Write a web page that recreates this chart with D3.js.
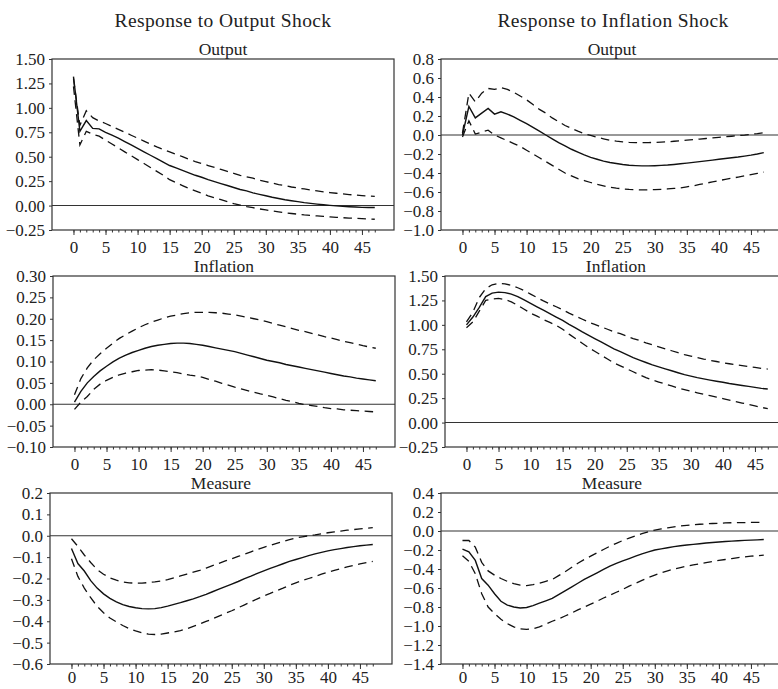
<!DOCTYPE html>
<meta charset="utf-8" />
<style>
  body { margin: 0; background: #fff; }
  svg text { font-family: "Liberation Serif", "DejaVu Serif", serif; fill: #222; }
</style>
<body>
<div id="chart"></div>
<script src="https://cdn.jsdelivr.net/npm/d3@7"></script>
<script>
// horizons 0..47
var horizon = d3.range(0, 48);

// --- Response to output shock ---
var outShockOutput = [1.32,0.76,0.87,0.79,0.785,0.75,0.72,0.69,0.655,0.62,0.585,0.55,0.515,0.48,0.445,0.41,0.385,0.36,0.335,0.31,0.29,0.265,0.245,0.225,0.205,0.185,0.165,0.15,0.13,0.115,0.10,0.085,0.072,0.06,0.05,0.04,0.03,0.022,0.015,0.008,0.002,-0.003,-0.008,-0.012,-0.015,-0.018,-0.02,-0.02];
var outShockOutputHi = [1.30,0.82,0.97,0.90,0.865,0.84,0.81,0.78,0.75,0.72,0.69,0.66,0.63,0.60,0.575,0.55,0.525,0.50,0.475,0.45,0.43,0.41,0.39,0.37,0.35,0.33,0.31,0.295,0.28,0.26,0.245,0.23,0.215,0.205,0.19,0.18,0.17,0.16,0.15,0.14,0.133,0.126,0.12,0.113,0.107,0.102,0.097,0.094];
var outShockOutputLo = [1.22,0.62,0.76,0.73,0.71,0.67,0.63,0.59,0.55,0.51,0.47,0.43,0.39,0.35,0.31,0.265,0.235,0.205,0.175,0.15,0.125,0.10,0.08,0.06,0.04,0.02,0.005,-0.01,-0.022,-0.034,-0.045,-0.055,-0.064,-0.073,-0.081,-0.088,-0.095,-0.10,-0.106,-0.111,-0.116,-0.12,-0.124,-0.128,-0.131,-0.134,-0.137,-0.14];

var outShockInfl = [0.005,0.03,0.05,0.065,0.078,0.089,0.099,0.108,0.115,0.121,0.126,0.131,0.135,0.138,0.140,0.142,0.143,0.143,0.142,0.140,0.138,0.135,0.132,0.129,0.126,0.123,0.119,0.115,0.111,0.107,0.103,0.100,0.097,0.093,0.090,0.087,0.084,0.081,0.078,0.075,0.072,0.069,0.066,0.064,0.061,0.059,0.057,0.055];
var outShockInflHi = [0.022,0.06,0.085,0.104,0.118,0.131,0.143,0.154,0.163,0.171,0.179,0.186,0.192,0.197,0.202,0.206,0.209,0.212,0.214,0.215,0.215,0.215,0.214,0.213,0.211,0.209,0.206,0.203,0.200,0.197,0.193,0.189,0.185,0.181,0.177,0.173,0.170,0.166,0.162,0.158,0.155,0.151,0.147,0.144,0.141,0.137,0.134,0.131];
var outShockInflLo = [-0.012,0.005,0.018,0.035,0.047,0.056,0.063,0.069,0.073,0.076,0.079,0.080,0.081,0.080,0.078,0.076,0.074,0.071,0.068,0.066,0.063,0.058,0.054,0.049,0.045,0.040,0.036,0.032,0.028,0.024,0.021,0.017,0.013,0.009,0.006,0.002,-0.001,-0.003,-0.005,-0.008,-0.010,-0.011,-0.013,-0.014,-0.015,-0.016,-0.017,-0.018];

var outShockMeas = [-0.06,-0.13,-0.165,-0.21,-0.245,-0.272,-0.293,-0.309,-0.322,-0.331,-0.337,-0.341,-0.342,-0.341,-0.336,-0.329,-0.321,-0.313,-0.304,-0.295,-0.285,-0.274,-0.262,-0.25,-0.238,-0.226,-0.214,-0.201,-0.189,-0.176,-0.164,-0.153,-0.142,-0.131,-0.12,-0.111,-0.102,-0.093,-0.085,-0.078,-0.071,-0.065,-0.06,-0.055,-0.051,-0.047,-0.044,-0.041];
var outShockMeasHi = [-0.014,-0.05,-0.09,-0.125,-0.158,-0.18,-0.197,-0.208,-0.216,-0.22,-0.222,-0.222,-0.219,-0.216,-0.212,-0.205,-0.197,-0.188,-0.179,-0.17,-0.162,-0.151,-0.14,-0.129,-0.118,-0.108,-0.097,-0.086,-0.075,-0.064,-0.054,-0.045,-0.036,-0.027,-0.018,-0.01,-0.005,0.0,0.004,0.009,0.014,0.018,0.022,0.026,0.029,0.032,0.035,0.038];
var outShockMeasLo = [-0.108,-0.19,-0.245,-0.29,-0.33,-0.36,-0.385,-0.403,-0.42,-0.434,-0.445,-0.454,-0.46,-0.462,-0.46,-0.455,-0.45,-0.444,-0.435,-0.424,-0.413,-0.401,-0.389,-0.376,-0.363,-0.351,-0.337,-0.323,-0.309,-0.295,-0.282,-0.27,-0.257,-0.245,-0.232,-0.22,-0.21,-0.2,-0.19,-0.18,-0.17,-0.162,-0.154,-0.146,-0.139,-0.132,-0.126,-0.12];

// --- Response to inflation shock ---
var infShockOutput = [0,0.30,0.18,0.23,0.28,0.22,0.245,0.22,0.19,0.155,0.12,0.08,0.04,0.0,-0.04,-0.08,-0.115,-0.15,-0.18,-0.21,-0.235,-0.255,-0.275,-0.29,-0.30,-0.31,-0.318,-0.322,-0.325,-0.325,-0.323,-0.32,-0.316,-0.31,-0.303,-0.296,-0.288,-0.28,-0.272,-0.264,-0.256,-0.248,-0.24,-0.232,-0.222,-0.212,-0.2,-0.185];
var infShockOutputHi = [0.02,0.44,0.35,0.44,0.49,0.48,0.50,0.48,0.45,0.41,0.37,0.32,0.27,0.23,0.18,0.14,0.10,0.07,0.04,0.015,-0.005,-0.025,-0.04,-0.055,-0.065,-0.072,-0.077,-0.08,-0.081,-0.08,-0.078,-0.075,-0.071,-0.066,-0.061,-0.055,-0.049,-0.043,-0.037,-0.031,-0.025,-0.019,-0.013,-0.007,-0.001,0.008,0.015,0.025];
var infShockOutputLo = [-0.02,0.15,0.01,0.03,0.05,0.0,-0.03,-0.06,-0.09,-0.12,-0.16,-0.20,-0.24,-0.28,-0.32,-0.36,-0.40,-0.43,-0.46,-0.48,-0.50,-0.52,-0.535,-0.55,-0.56,-0.567,-0.573,-0.577,-0.578,-0.577,-0.575,-0.572,-0.568,-0.562,-0.556,-0.545,-0.535,-0.52,-0.507,-0.494,-0.48,-0.467,-0.455,-0.443,-0.43,-0.417,-0.404,-0.39];

var infShockInfl = [1.00,1.08,1.18,1.29,1.325,1.335,1.33,1.315,1.29,1.255,1.22,1.185,1.15,1.115,1.08,1.045,1.005,0.97,0.93,0.895,0.86,0.825,0.79,0.755,0.725,0.695,0.665,0.64,0.615,0.59,0.57,0.55,0.53,0.51,0.49,0.475,0.46,0.447,0.435,0.423,0.412,0.40,0.39,0.38,0.37,0.36,0.35,0.343];
var infShockInflHi = [1.03,1.13,1.28,1.37,1.41,1.425,1.42,1.405,1.38,1.35,1.315,1.28,1.245,1.215,1.185,1.155,1.12,1.09,1.06,1.03,1.005,0.98,0.955,0.93,0.91,0.885,0.86,0.84,0.815,0.795,0.775,0.755,0.735,0.715,0.695,0.68,0.665,0.65,0.637,0.625,0.613,0.602,0.592,0.582,0.573,0.564,0.555,0.548];
var infShockInflLo = [0.97,1.03,1.14,1.25,1.265,1.27,1.26,1.235,1.20,1.16,1.12,1.09,1.055,1.025,0.995,0.955,0.905,0.86,0.815,0.77,0.73,0.69,0.65,0.61,0.58,0.55,0.52,0.49,0.46,0.435,0.415,0.395,0.375,0.355,0.337,0.32,0.305,0.29,0.275,0.26,0.245,0.23,0.215,0.2,0.185,0.17,0.155,0.143];

var infShockMeas = [-0.19,-0.22,-0.31,-0.50,-0.57,-0.66,-0.74,-0.78,-0.80,-0.81,-0.805,-0.785,-0.76,-0.735,-0.71,-0.67,-0.63,-0.59,-0.55,-0.51,-0.475,-0.44,-0.405,-0.37,-0.34,-0.315,-0.29,-0.265,-0.24,-0.22,-0.2,-0.188,-0.176,-0.165,-0.155,-0.148,-0.141,-0.134,-0.127,-0.121,-0.116,-0.111,-0.107,-0.103,-0.099,-0.096,-0.093,-0.09];
var infShockMeasHi = [-0.10,-0.10,-0.17,-0.33,-0.42,-0.465,-0.50,-0.53,-0.555,-0.57,-0.575,-0.565,-0.55,-0.53,-0.51,-0.47,-0.43,-0.385,-0.34,-0.30,-0.265,-0.23,-0.195,-0.16,-0.13,-0.1,-0.075,-0.05,-0.028,-0.008,0.01,0.022,0.034,0.044,0.053,0.06,0.066,0.071,0.075,0.079,0.082,0.085,0.087,0.088,0.089,0.09,0.09,0.09];
var infShockMeasLo = [-0.26,-0.32,-0.45,-0.66,-0.80,-0.87,-0.93,-0.975,-1.01,-1.03,-1.035,-1.03,-1.01,-0.98,-0.95,-0.925,-0.895,-0.865,-0.83,-0.80,-0.77,-0.74,-0.705,-0.675,-0.645,-0.615,-0.58,-0.55,-0.52,-0.49,-0.465,-0.44,-0.42,-0.40,-0.385,-0.37,-0.357,-0.345,-0.333,-0.322,-0.31,-0.3,-0.29,-0.28,-0.272,-0.265,-0.26,-0.255];

// tick values / labels
var xMajorTicks = [0,5,10,15,20,25,30,35,40,45];
var xTickLabels = ["0","5","10","15","20","25","30","35","40","45"];
var xTickLabelsOdd = ["0","5","10","15","20","25","35","30","40","45"]; // as printed under the inflation-shock inflation panel
var yTicksOutA = [-0.25,0,0.25,0.5,0.75,1,1.25,1.5];
var yTicksOutB = [-1,-0.8,-0.6,-0.4,-0.2,0,0.2,0.4,0.6,0.8];
var yTicksInfA = [-0.1,-0.05,0,0.05,0.1,0.15,0.2,0.25,0.3];
var yTicksInfB = [-0.25,0,0.25,0.5,0.75,1,1.25,1.5];
var yTicksMeasA = [-0.6,-0.5,-0.4,-0.3,-0.2,-0.1,0,0.1,0.2];
var yTicksMeasB = [-1.4,-1.2,-1,-0.8,-0.6,-0.4,-0.2,0,0.2,0.4];

var columnTitles = ["Response to Output Shock", "Response to Inflation Shock"];

var W = 778, H = 689;
var panelW = 342, panelH = 171;
var tickFont = 17;

var svg = d3.select("#chart").append("svg")
  .attr("width", W).attr("height", H);

svg.selectAll("text.coltitle")
  .data(columnTitles)
  .enter().append("text")
  .attr("class", "coltitle")
  .attr("x", (d, i) => i === 0 ? 223 : 613)
  .attr("y", 27)
  .attr("text-anchor", "middle")
  .attr("font-size", "19.5px")
  .attr("letter-spacing", "0.4px")
  .text(d => d);

var panels = [
  { title: "Output", left: 52, top: 59, dom: [-0.25, 1.5], ticks: yTicksOutA, fmt: ".2f", mid: outShockOutput, hi: outShockOutputHi, lo: outShockOutputLo, xl: xTickLabels, pad: 23 },
  { title: "Output", left: 441, top: 59, dom: [-1, 0.8], ticks: yTicksOutB, fmt: ".1f", mid: infShockOutput, hi: infShockOutputHi, lo: infShockOutputLo, xl: xTickLabels, pad: 23 },
  { title: "Inflation", left: 53, top: 276, dom: [-0.1, 0.3], ticks: yTicksInfA, fmt: ".2f", mid: outShockInfl, hi: outShockInflHi, lo: outShockInflLo, xl: xTickLabels, pad: 23 },
  { title: "Inflation", left: 445, top: 276, dom: [-0.25, 1.5], ticks: yTicksInfB, fmt: ".2f", mid: infShockInfl, hi: infShockInflHi, lo: infShockInflLo, xl: xTickLabelsOdd, pad: 23 },
  { title: "Measure", left: 50, top: 493, dom: [-0.6, 0.2], ticks: yTicksMeasA, fmt: ".1f", mid: outShockMeas, hi: outShockMeasHi, lo: outShockMeasLo, xl: xTickLabels, pad: 19 },
  { title: "Measure", left: 441, top: 493, dom: [-1.4, 0.4], ticks: yTicksMeasB, fmt: ".1f", mid: infShockMeas, hi: infShockMeasHi, lo: infShockMeasLo, xl: xTickLabels, pad: 19 }
];

panels.forEach(function (p) {
  var x = d3.scaleLinear().domain([-3.35, 50]).range([p.left, p.left + panelW]);
  var y = d3.scaleLinear().domain(p.dom).range([p.top + panelH, p.top]);
  var g = svg.append("g");

  // title
  g.append("text")
    .attr("x", p.left + panelW / 2)
    .attr("y", p.top - 4)
    .attr("text-anchor", "middle")
    .attr("font-size", "17.5px")
    .text(p.title);

  // y axis
  var ya = g.append("g")
    .attr("transform", "translate(" + p.left + ",0)")
    .call(d3.axisLeft(y).tickValues(p.ticks).tickFormat(d3.format(p.fmt)).tickSize(3).tickPadding(4).tickSizeOuter(0));
  ya.select(".domain").remove();
  ya.selectAll("line").attr("stroke", "#333");
  ya.selectAll("text").attr("font-size", tickFont + "px").attr("font-family", "Liberation Serif").attr("fill", "#222");

  // x minor ticks
  var xm = g.append("g")
    .attr("transform", "translate(0," + (p.top + panelH) + ")")
    .call(d3.axisBottom(x).tickValues(horizon).tickSize(2.5).tickFormat(""));
  xm.select(".domain").remove();
  xm.selectAll("line").attr("stroke", "#333");

  // x major ticks + labels (baseline p.pad px below the frame)
  var xa = g.append("g")
    .attr("transform", "translate(0," + (p.top + panelH) + ")")
    .call(d3.axisBottom(x).tickValues(xMajorTicks).tickSize(5)
      .tickPadding(p.pad - 5 - 0.71 * tickFont)
      .tickFormat((d, i) => p.xl[i]));
  xa.select(".domain").remove();
  xa.selectAll("line").attr("stroke", "#333");
  xa.selectAll("text").attr("font-size", tickFont + "px").attr("font-family", "Liberation Serif").attr("fill", "#222");

  // frame
  g.append("rect")
    .attr("x", p.left).attr("y", p.top)
    .attr("width", panelW).attr("height", panelH)
    .attr("fill", "none").attr("stroke", "#333").attr("stroke-width", 1.2);

  // zero line
  g.append("line")
    .attr("x1", p.left).attr("x2", p.left + panelW)
    .attr("y1", y(0)).attr("y2", y(0))
    .attr("stroke", "#333").attr("stroke-width", 1.1);

  var line = d3.line().x((d, i) => x(horizon[i])).y(d => y(d));

  g.append("path").datum(p.hi).attr("d", line)
    .attr("fill", "none").attr("stroke", "#111").attr("stroke-width", 1.3)
    .attr("stroke-dasharray", "8.5,5.5");
  g.append("path").datum(p.lo).attr("d", line)
    .attr("fill", "none").attr("stroke", "#111").attr("stroke-width", 1.3)
    .attr("stroke-dasharray", "8.5,5.5");
  g.append("path").datum(p.mid).attr("d", line)
    .attr("fill", "none").attr("stroke", "#111").attr("stroke-width", 1.4);
});
</script>
</body>
